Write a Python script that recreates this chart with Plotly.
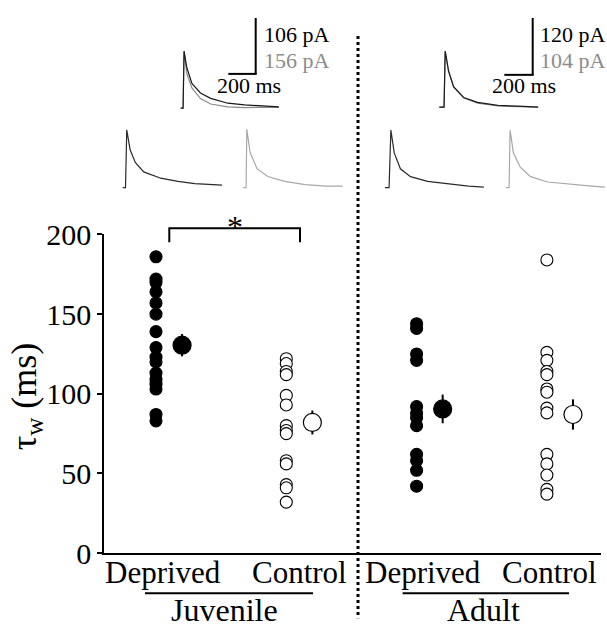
import plotly.graph_objects as go

W, H = 607, 639
FONT = "Liberation Serif, Times New Roman, serif"

# ---------------- data: tau_w (ms) ----------------
groups = ["Juvenile Deprived", "Juvenile Control", "Adult Deprived", "Adult Control"]
group_x = [1, 2, 3, 4]
juv_dep = [186, 172, 170, 164, 157, 150, 139, 129, 123, 120, 113, 109, 106, 103, 87, 83]
juv_con = [122, 119, 114, 112, 99, 93, 80, 77, 75, 58, 56, 43, 41, 32]
adu_dep = [144, 141, 125, 121, 92, 88, 85, 80, 62, 58, 52, 42]
adu_con = [184, 126, 121, 114, 112, 103, 101, 91, 88, 62, 56, 49, 40, 37]
group_means = [130.5, 82, 90.5, 87]
group_sems = [7, 7.5, 9, 9.5]
filled = [True, False, True, False]

y_ticks = [0, 50, 100, 150, 200]
cat_labels = ["Deprived", "Control", "Deprived", "Control"]
cat_label_x = [1.05, 2.1, 3.05, 4.02]
age_labels = ["Juvenile", "Adult"]

# ---------------- example current traces (time ms, current pA) ----------------
t_juv_ov = [0, 17, 24, 44, 80, 141, 214, 336, 457, 579, 701]
juv_dep_ov = [0, 0, 106, 75, 46, 28, 18, 9, 6, 3.5, 2]
juv_con_ov = [0, 0, 156, 94, 55, 26, 11, 3.4, 1, 2.6, 2]

t_juv_dep = [0, 20, 29, 53, 90, 150, 272, 394, 515, 637, 710]
juv_dep_tr = [0, 0, 106, 69.5, 46.4, 29, 17.4, 11.6, 7.5, 5.7, 4.7]
t_juv_con = [0, 20, 25, 49, 98, 175, 296, 442, 588, 710]
juv_con_tr = [0, 0, 156, 93.9, 51, 30, 17, 8.4, 4.3, 4.3]

t_adu_ov = [0, 34, 42, 66, 102, 175, 273, 419, 565, 706]
adu_dep_ov = [0, 0, 120, 78, 44, 20.4, 10.2, 3.5, 2, 0]
adu_con_ov = [0, 0, 104, 66, 37, 17, 7.5, 2, 1, 0]

t_adu_dep = [0, 29, 42, 66, 110, 182, 304, 450, 596, 706]
adu_dep_tr = [0, 0, 120, 72.6, 39.5, 23.1, 13.2, 7.9, 3.4, 1.4]
t_adu_con = [0, 22, 29, 53, 102, 175, 297, 467, 613, 706]
adu_con_tr = [0, 0, 104, 62.8, 37.2, 20, 10.3, 5.7, 2.9, 1.2]

scale_labels = [("106 pA", "156 pA"), ("120 pA", "104 pA")]
time_bar_label = "200 ms"

# ---------------- figure ----------------
fig = go.Figure()
DARK = "#1a1a1a"
GREY = "#8a8a8a"
LIGHT = "#a8a8a8"

def px_x(p):
    return p / W

def px_y(p):
    return 1 - p / H

# main axes geometry (pixels)
X_UNIT = 130.3          # px per group
X1_PX = 156.0           # px position of group 1
AX_L, AX_R = 104.0, 601.0
Y0_PX, Y200_PX = 565.3, 229.3

all_pts = [juv_dep, juv_con, adu_dep, adu_con]
for gx, pts, fill in zip(group_x, all_pts, filled):
    fig.add_trace(go.Scatter(
        x=[gx] * len(pts), y=pts, mode="markers", cliponaxis=False,
        marker=dict(size=12, color="black" if fill else "white",
                    line=dict(color="black", width=1.1)),
        showlegend=False, xaxis="x", yaxis="y"))
for gx, m, s, fill in zip(group_x, group_means, group_sems, filled):
    fig.add_trace(go.Scatter(
        x=[gx + 0.2], y=[m], mode="markers", cliponaxis=False,
        error_y=dict(type="data", array=[s], color="black", thickness=2, width=0),
        marker=dict(size=18, color="black" if fill else "white",
                    line=dict(color="black", width=1.2)),
        showlegend=False, xaxis="x", yaxis="y"))

layout_axes = {}
layout_axes["xaxis"] = dict(
    domain=[px_x(AX_L), px_x(AX_R)],
    range=[1 - (X1_PX - AX_L) / X_UNIT, 1 + (AX_R - X1_PX) / X_UNIT],
    showline=True, linecolor="black", linewidth=1.5, ticks="",
    showticklabels=False, showgrid=False, zeroline=False, anchor="y")
layout_axes["yaxis"] = dict(
    domain=[px_y(Y0_PX), px_y(Y200_PX)], range=[0, 200],
    showline=True, linecolor="black", linewidth=1.5,
    ticks="outside", ticklen=5, tickwidth=1.5, tickcolor="black",
    tickvals=y_ticks, tickfont=dict(family=FONT, size=30, color="black"),
    showgrid=False, zeroline=False, anchor="x")

# ---------------- trace sub-axes ----------------
MS_PER_PX = 200 / 28.0
TMAX = 720
PAD = 5

def add_trace_axes(n, x0_px, base_px, top_px, ymax):
    ppu = (base_px - top_px) / ymax
    dx0 = max(0.0, x0_px - PAD)
    dx1 = min(float(W), x0_px + TMAX / MS_PER_PX + PAD)
    dy_bot = min(float(H), base_px + PAD)
    dy_top = max(0.0, top_px - PAD)
    layout_axes[f"xaxis{n}"] = dict(
        domain=[px_x(dx0), px_x(dx1)],
        range=[(dx0 - x0_px) * MS_PER_PX, (dx1 - x0_px) * MS_PER_PX],
        visible=False, anchor=f"y{n}")
    layout_axes[f"yaxis{n}"] = dict(
        domain=[px_y(dy_bot), px_y(dy_top)],
        range=[(base_px - dy_bot) / ppu, (base_px - dy_top) / ppu],
        visible=False, anchor=f"x{n}")

trace_specs = [
    # n, t, y, color, x0_px, base_px, top_px, ymax
    (2, t_juv_ov, juv_con_ov, GREY, 180.7, 96, 36, 156),
    (3, t_juv_ov, juv_dep_ov, DARK, 180.7, 96, 36, 106),
    (4, t_juv_dep, juv_dep_tr, "#2a2a2a", 122.7, 180, 119, 106),
    (5, t_juv_con, juv_con_tr, LIGHT, 243.3, 180, 118.5, 156),
    (6, t_adu_ov, adu_con_ov, GREY, 439.3, 95, 36, 104),
    (7, t_adu_ov, adu_dep_ov, DARK, 439.3, 95, 36, 120),
    (8, t_adu_dep, adu_dep_tr, "#2a2a2a", 385.0, 180, 119.3, 120),
    (9, t_adu_con, adu_con_tr, LIGHT, 506.0, 180, 119.3, 104),
]
for n, t, y, col, x0, b, tp, ymax in trace_specs:
    add_trace_axes(n, x0, b, tp, ymax)
    fig.add_trace(go.Scatter(x=t, y=y, mode="lines", line=dict(color=col, width=1.2),
                             showlegend=False, xaxis=f"x{n}", yaxis=f"y{n}"))

# ---------------- decorations ----------------
shapes = []
def pline(x0, y0, x1, y1, width=2, dash=None, color="black"):
    d = dict(type="line", xref="paper", yref="paper",
             x0=px_x(x0), y0=px_y(y0), x1=px_x(x1), y1=px_y(y1),
             line=dict(color=color, width=width))
    if dash:
        d["line"]["dash"] = dash
    shapes.append(d)

# scale bars
pline(255.7, 1, 255.7, 60)
pline(228.3, 60, 256.7, 60)
pline(532.7, 1, 532.7, 61)
pline(504.3, 61, 533.7, 61)
# dotted separator
pline(358, 20, 358, 634, width=3, dash="dot")
# significance bracket
shapes.append(dict(type="path", xref="paper", yref="paper",
                   path=f"M {px_x(169.3)} {px_y(237.5)} L {px_x(169.3)} {px_y(222.7)} "
                        f"L {px_x(300)} {px_y(222.7)} L {px_x(300)} {px_y(237.5)}",
                   line=dict(color="black", width=2)))
# group underlines
pline(145, 607.7, 313, 607.7)
pline(402.6, 607.7, 569, 607.7)

ann = []
def ptext(x, y, text, size, color="black", xanchor="center", yanchor="middle", angle=0):
    ann.append(dict(x=px_x(x), y=px_y(y), xref="paper", yref="paper", text=text,
                    showarrow=False, xanchor=xanchor, yanchor=yanchor, textangle=angle,
                    font=dict(family=FONT, size=size, color=color)))

# category labels under the x axis (placed in axis units)
for lx, lt in zip(cat_label_x, cat_labels):
    ann.append(dict(x=lx, y=px_y(586), xref="x", yref="paper", text=lt,
                    showarrow=False, xanchor="center", yanchor="middle",
                    font=dict(family=FONT, size=31, color="black")))

ptext(262, 18, scale_labels[0][0], 22, "black", "left")
ptext(262, 46, scale_labels[0][1], 22, "#8c8c8c", "left")
ptext(249, 72, time_bar_label, 22)
ptext(537.5, 18, scale_labels[1][0], 22, "black", "left")
ptext(537.5, 46, scale_labels[1][1], 22, "#8c8c8c", "left")
ptext(524, 72, time_bar_label, 22)
ptext(235, 221, "*", 32)
ptext(224, 625.5, age_labels[0], 32)
ptext(483, 625.5, age_labels[1], 32)
ptext(26, 400, "τ<sub>w</sub> (ms)", 36, angle=-90)

fig.update_layout(
    width=W, height=H, margin=dict(l=0, r=0, t=0, b=0),
    paper_bgcolor="white", plot_bgcolor="rgba(0,0,0,0)",
    showlegend=False, shapes=shapes, annotations=ann,
    **layout_axes)

fig.write_html("out.html", config={"displayModeBar": False},
               post_script="document.body.style.margin='0';document.body.style.overflow='hidden';")
